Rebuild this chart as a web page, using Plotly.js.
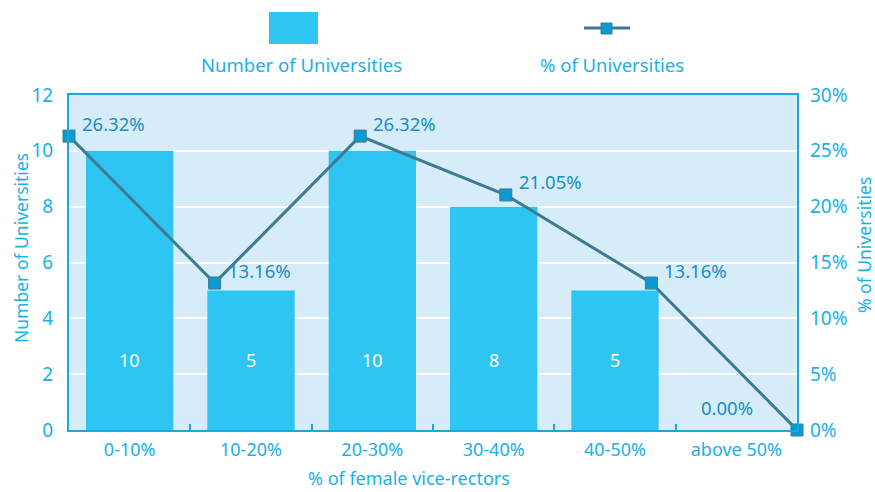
<!DOCTYPE html>
<html>
<head>
<meta charset="utf-8">
<script src="https://cdn.plot.ly/plotly-3.0.1.min.js"></script>
<style>
  body { margin: 0; background: #fff; }
  #chart { width: 875px; height: 492px; }
</style>
</head>
<body>
<div id="chart"></div>
<script>
// data
var categories = ['0-10%', '10-20%', '20-30%', '30-40%', '40-50%', 'above 50%'];
var counts = [10, 5, 10, 8, 5, 0];
var shares = [0.2632, 0.1316, 0.2632, 0.2105, 0.1316, 0.0];
var shareLabels = ['26.32%', '13.16%', '26.32%', '21.05%', '13.16%', '0.00%'];

var FONT = 'Noto Sans, Open Sans, sans-serif';
var tickBlue = '#1ab0e8';
var labelBlue = '#178fc4';

var bars = {
    x: categories,
    y: counts,
    type: 'bar',
    width: 0.72,
    marker: {color: '#2ec5f3'},
    hoverinfo: 'skip',
    showlegend: false
};

// line sits on its own x axis running edge to edge
var line = {
    x: categories.map((c, i) => i),
    y: shares,
    xaxis: 'x2',
    yaxis: 'y2',
    type: 'scatter',
    mode: 'lines+markers',
    line: {color: '#3f7a92', width: 3},
    marker: {symbol: 'square', size: 12, color: '#0a9bd3', line: {color: '#3f7a92', width: 1}},
    cliponaxis: false,
    showlegend: false
};

var annotations = [];
// count labels inside bars (near bottom)
counts.forEach(function (v, i) {
    if (v > 0) {
        annotations.push({
            x: categories[i], y: 2.5, xref: 'x', yref: 'y',
            text: String(v), showarrow: false,
            font: {family: FONT, size: 18, color: '#ffffff'}
        });
    }
});
// percent labels next to markers
shares.forEach(function (v, i) {
    var last = i == shares.length - 1;
    annotations.push({
        x: i, y: v, xref: 'x2', yref: 'y2',
        text: shareLabels[i], showarrow: false,
        xanchor: last ? 'center' : 'left',
        yanchor: 'middle',
        xshift: last ? -70 : 11,
        yshift: last ? 23 : 13,
        font: {family: FONT, size: 18.5, color: labelBlue}
    });
});

// convert pixel positions to paper coordinates
var M = {l: 69, r: 78, t: 95, b: 62};
var W = 875 - M.l - M.r, H = 492 - M.t - M.b;
function px(x) { return (x - M.l) / W; }
function py(y) { return (492 - M.b - y) / H; }

function paperText(text, x, y, size, angle) {
    annotations.push({
        x: px(x), y: py(y), xref: 'paper', yref: 'paper', xanchor: 'center', yanchor: 'middle',
        text: text, showarrow: false, textangle: angle || 0,
        font: {family: FONT, size: size, color: tickBlue}
    });
}

// legend text (symbol above text)
paperText('Number of Universities', 301, 65, 18.5);
paperText('% of Universities', 612, 65, 18.5);
// axis titles
paperText('% of female vice-rectors', 409, 478, 18);
paperText('Number of Universities', 21, 248, 17.5, -90);
paperText('% of Universities', 864, 245, 17.5, -90);

var shapes = [
    {type: 'rect', xref: 'paper', yref: 'paper', x0: px(269), x1: px(318), y0: py(44), y1: py(12),
        fillcolor: '#2ec5f3', line: {width: 0}},
    {type: 'line', xref: 'paper', yref: 'paper', x0: px(584), x1: px(630), y0: py(28), y1: py(28),
        line: {color: '#3f7a92', width: 3}},
    {type: 'rect', xref: 'paper', yref: 'paper', x0: px(601), x1: px(612), y0: py(34), y1: py(23),
        fillcolor: '#0a9bd3', line: {color: '#3f7a92', width: 1}}
];

var layout = {
    width: 875,
    height: 492,
    margin: M,
    paper_bgcolor: '#ffffff',
    plot_bgcolor: '#d6edf9',
    font: {family: FONT, size: 18, color: tickBlue},
    xaxis: {
        type: 'category',
        range: [-0.5, 5.5],
        showline: true, mirror: true, linecolor: '#1aa8e0', linewidth: 2,
        ticks: 'inside', tickson: 'boundaries', ticklen: 6, tickcolor: '#1aa8e0', tickwidth: 2,
        showgrid: false, ticklabelstandoff: 2,
        tickfont: {family: FONT, size: 18, color: tickBlue}
    },
    xaxis2: {
        overlaying: 'x', range: [0, 5], visible: false
    },
    yaxis: {
        range: [0, 12], dtick: 2,
        showline: true, mirror: true, linecolor: '#1aa8e0', linewidth: 2,
        gridcolor: '#ffffff', gridwidth: 2, zeroline: false,
        ticks: '', ticklabelstandoff: 10,
        tickfont: {family: FONT, size: 19, color: tickBlue}
    },
    yaxis2: {
        overlaying: 'y', side: 'right', range: [0, 0.30], dtick: 0.05, tickformat: '.0%',
        showgrid: false, zeroline: false, showline: false, ticklabelstandoff: 12,
        tickfont: {family: FONT, size: 19, color: tickBlue}
    },
    annotations: annotations,
    shapes: shapes
};

Plotly.newPlot('chart', [bars, line], layout, {displayModeBar: false, staticPlot: true});
</script>
</body>
</html>
